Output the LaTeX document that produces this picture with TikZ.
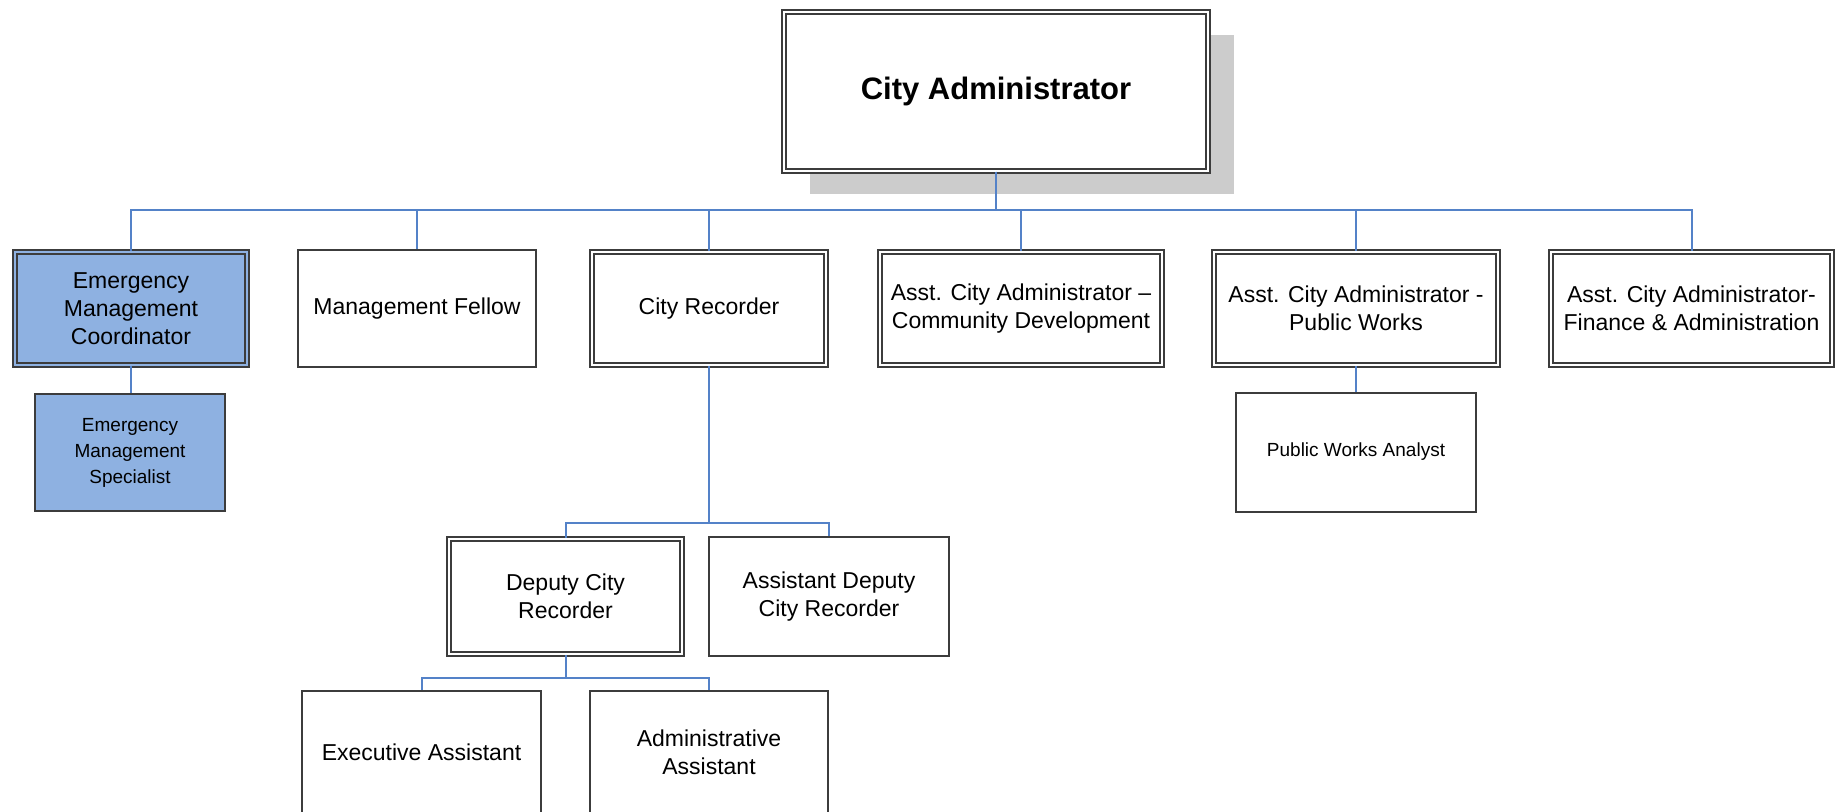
\documentclass[tikz,border=0pt]{standalone}
\usepackage{fontspec}
\setmainfont{Liberation Sans}
\usetikzlibrary{shadows}

\definecolor{linkblue}{RGB}{84,130,200}
\definecolor{boxblue}{RGB}{142,177,225}
\definecolor{boxgray}{RGB}{60,60,60}

\begin{document}
\begin{tikzpicture}[x=0.5pt,y=-0.5pt,
  box/.style={draw=boxgray, line width=1pt, fill=white, align=center, inner sep=1pt,
    font=\fontsize{11.5}{14}\selectfont},
  dbox/.style={box, line width=0.9pt, double=white, double distance=1.3pt},
  small/.style={font=\fontsize{9.5}{13}\selectfont},
  emfill/.style={fill=boxblue},
  link/.style={draw=linkblue, line width=1pt}]

\useasboundingbox (0,0) rectangle (1839,811);

%livello 0
\node[dbox, minimum width=212pt, minimum height=79.5pt,
  font=\fontsize{15.5}{18}\selectfont\bfseries,
  drop shadow={shadow xshift=13pt, shadow yshift=-11.5pt, fill=black!20, opacity=1}]
  (ca) at (996,91.5) {City Administrator};

%livello 1
\node[dbox, emfill, double=boxblue, minimum width=116pt, minimum height=56.5pt] (emc) at (131,308.5) {Emergency\\Management\\Coordinator};
\node[box, minimum width=119pt, minimum height=58.5pt] (mf) at (417,308.5) {Management Fellow};
\node[dbox, minimum width=117pt, minimum height=56.5pt] (cr) at (709,308.5) {City Recorder};
\node[dbox, minimum width=141pt, minimum height=56.5pt] (cd) at (1021,308.5) {Asst. City Administrator --\\Community Development};
\node[dbox, minimum width=142pt, minimum height=56.5pt] (pw) at (1356,308.5) {Asst. City Administrator -\\Public Works};
\node[dbox, minimum width=140.5pt, minimum height=56.5pt] (fa) at (1691.5,308.5) {Asst. City Administrator-\\Finance \& Administration};

%livello 2
\node[box, small, emfill, minimum width=95pt, minimum height=58.5pt] (ems) at (130,452.5) {Emergency\\Management\\Specialist};
\node[box, small, minimum width=120pt, minimum height=59.5pt] (pwa) at (1356,452) {Public Works Analyst};

\node[dbox, minimum width=116.5pt, minimum height=57.5pt] (dcr) at (565.5,596.5) {Deputy City\\Recorder};
\node[box, minimum width=120pt, minimum height=59.5pt] (adcr) at (829,596.5) {Assistant Deputy\\City Recorder};

%livello 3
\node[box, minimum width=119.5pt, minimum height=61pt] (ea) at (421.5,752) {Executive Assistant};
\node[box, minimum width=119pt, minimum height=61pt] (aa) at (709,752) {Administrative\\Assistant};

%linee
\coordinate (bus) at (0,210);
\coordinate (crbus) at (0,523);
\coordinate (dcbus) at (0,678);

\draw[link] (ca.south) -- (ca.south |- bus) -| (emc.north);
\draw[link] (ca.south) -- (ca.south |- bus) -| (mf.north);
\draw[link] (ca.south) -- (ca.south |- bus) -| (cr.north);
\draw[link] (ca.south) -- (ca.south |- bus) -| (cd.north);
\draw[link] (ca.south) -- (ca.south |- bus) -| (pw.north);
\draw[link] (ca.south) -- (ca.south |- bus) -| (fa.north);

\draw[link] (emc.south) -- (emc.south |- ems.north);
\draw[link] (pw.south) -- (pw.south |- pwa.north);

\draw[link] (cr.south) -- (cr.south |- crbus) -| (dcr.north);
\draw[link] (cr.south) -- (cr.south |- crbus) -| (adcr.north);

\draw[link] (dcr.south) -- (dcr.south |- dcbus) -| (ea.north);
\draw[link] (dcr.south) -- (dcr.south |- dcbus) -| (aa.north);

\end{tikzpicture}
\end{document}
